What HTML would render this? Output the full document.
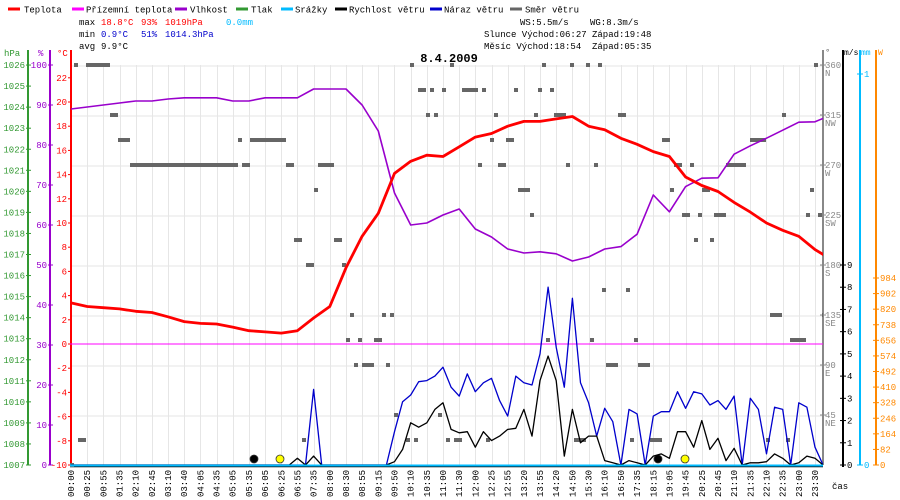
<!DOCTYPE html>
<html><head><meta charset="utf-8"><style>
html,body{margin:0;padding:0;background:#fff;}
svg{display:block;font-family:"Liberation Mono",monospace;}
</style></head><body>
<svg id="c" width="900" height="500" viewBox="0 0 900 500" xmlns="http://www.w3.org/2000/svg">
<rect width="900" height="500" fill="#fff"/>
<g id="legend" font-size="9"></g>
<g id="stats" font-size="9">
<text x="79" y="25" fill="#000">max</text><text x="101" y="25" fill="#f00">18.8°C</text><text x="141" y="25" fill="#f00">93%</text><text x="165" y="25" fill="#f00">1019hPa</text><text x="226" y="25" fill="#0bf">0.0mm</text>
<text x="79" y="37" fill="#000">min</text><text x="101" y="37" fill="#00c"> 0.9°C</text><text x="141" y="37" fill="#00c">51%</text><text x="165" y="37" fill="#00c">1014.3hPa</text>
<text x="79" y="49" fill="#000">avg</text><text x="101" y="49" fill="#000"> 9.9°C</text>
<text x="520" y="25" fill="#000">WS:5.5m/s</text><text x="590" y="25" fill="#000">WG:8.3m/s</text>
<text x="484" y="37" fill="#000">Slunce Východ:06:27</text><text x="592" y="37" fill="#000">Západ:19:48</text>
<text x="484" y="49" fill="#000">Měsíc  Východ:18:54</text><text x="592" y="49" fill="#000">Západ:05:35</text>
</g>
<text x="449" y="62" font-size="12" font-weight="bold" text-anchor="middle" font-family="Liberation Mono, monospace">8.4.2009</text>
<g id="grid"></g>
<g id="axes"></g>
<g id="marks" clip-path="url(#clip)"></g>
<defs><clipPath id="clip"><rect x="70" y="50" width="753" height="418"/></clipPath></defs>
</svg>
<script>
// ---- data ----
const timeLabels=["00:00","00:25","00:55","01:35","02:10","02:45","03:10","03:40","04:05","04:35","05:05","05:35","06:05","06:25","06:55","07:35","08:00","08:30","08:55","09:15","09:50","10:10","10:35","11:00","11:30","12:00","12:25","12:55","13:20","13:55","14:20","14:50","15:30","16:10","16:50","17:35","18:15","19:05","19:45","20:25","20:45","21:10","21:35","22:10","22:35","23:00","23:30"];
const temperature=[3.4,3.1,3.0,2.9,2.7,2.6,2.25,1.85,1.7,1.65,1.4,1.1,1.0,0.9,1.1,2.15,3.1,6.3,8.9,10.8,14.1,15.1,15.6,15.5,16.3,17.1,17.4,18.0,18.4,18.4,18.6,18.8,18.0,17.7,17.0,16.5,15.9,15.5,13.8,13.1,12.6,11.7,10.9,10.0,9.4,8.9,7.8,7.0];
const humidity=[89,89.5,90,90.5,91,91,91.5,91.8,91.8,91.8,91,91,91.8,91.8,91.8,94,94,94,90,83.5,68,60,60.5,62.5,64,59,57,54,53,53.3,52.8,51,52,54,54.6,57.7,67.5,63.3,69.6,71.7,71.8,77.7,79.8,81.7,83.7,85.7,85.8,87.5];
const gust=[0,0,0,0,0,0,0,0,0,0,0,0,0,0,0,0,0,0,0,0,0,0,0,0,0,0,0,0,0,0,3.4,0,0,0,0,0,0,0,0,0,
1.5,2.85,3.15,3.75,3.8,4.0,4.4,3.5,3.1,4.1,3.3,3.7,3.9,2.9,2.2,4.0,3.7,3.6,5.0,8.0,5.3,3.5,7.5,3.7,2.8,1.3,
2.55,1.95,0,2.5,2.3,0,2.2,2.4,2.4,3.3,2.55,3.3,3.2,2.7,2.9,2.5,3.1,0,3.0,2.5,0.5,2.6,2.5,0,2.8,2.6,0.8,0];
const windSpeed=[0,0,0,0,0,0,0,0,0,0,0,0,0,0,0,0,0,0,0,0,0,0,0,0,0,0,0,0,0.3,0,0.4,0,0,0,0,0,0,0,0,0,
0.15,0.7,1.9,1.7,1.9,2.5,2.8,1.6,1.45,1.5,0.8,1.5,1.1,1.3,1.6,1.65,2.5,1.3,3.8,4.9,3.8,0.4,2.5,1.0,1.3,1.3,
0.2,0.1,0,0.2,0.1,0,0.4,0.5,0.3,1.5,1.5,0.8,2.0,0.7,1.2,0.2,0.75,0,0.1,0.1,0.15,0.5,0.3,0,0.1,0.4,0.3,0];
const dirStart=[1,4,10,12,42,45,15,43,54,62,61,56,66,59,68,70,78,80,69,72,76,71,73,79,2,58,84,86,94,81,92,0,85,87,90,93,89,91,
95,118,125,129,132,186,98,103,111,117,120,106,116,121,137,178,105,109,148,170,102,107,124,131,151,155,164,112,150,158,185,115,153,157,161,184,187,156,160,133,139,175,188,119,130,141,180,134,142,96,104,126,140,145,146,174,179];
const dirLen=[1,6,2,3,1,9,27,2,2,4,1,2,2,2,1,1,1,1,1,1,2,1,3,1,2,1,1,1,1,1,1,1,1,2,1,1,1,1,
1,1,1,1,1,1,4,1,1,1,1,1,1,3,2,1,1,2,2,4,1,2,1,1,2,1,5,3,1,2,1,1,2,1,3,1,1,1,1,1,1,3,1,1,1,1,4,3,3,2,1,3,1,1,2,1,1];
const dirDeg=[360,360,315,292.5,292.5,292.5,270,270,270,270,247.5,202.5,202.5,180,180,135,135,135,112.5,112.5,112.5,90,90,90,22.5,22.5,22.5,22.5,22.5,45,45,0,360,337.5,337.5,337.5,315,315,
360,360,360,360,360,360,337.5,337.5,337.5,337.5,337.5,315,315,315,315,315,292.5,292.5,292.5,292.5,270,270,270,270,270,270,270,247.5,247.5,247.5,247.5,225,225,225,225,225,225,202.5,202.5,157.5,157.5,135,135,112.5,112.5,112.5,112.5,90,90,22.5,22.5,22.5,22.5,22.5,22.5,22.5,22.5];
const hpaTicks=[1007,1008,1009,1010,1011,1012,1013,1014,1015,1016,1017,1018,1019,1020,1021,1022,1023,1024,1025,1026];
const humTicks=[0,10,20,30,40,50,60,70,80,90,100];
const tempTicks=[-10,-8,-6,-4,-2,0,2,4,6,8,10,12,14,16,18,20,22];
const dirTicks=[45,90,135,180,225,270,315,360];
const dirNames=["NE","E","SE","S","SW","W","NW","N"];
const msTicks=[0,1,2,3,4,5,6,7,8,9];
const wTicks=[0,82,164,246,328,410,492,574,656,738,820,902,984];
// ---- scales ----
const X0=71, X1=815, PL=70, PR=823, PB=465;
const xIdx=i=>X0+i*(X1-X0)/(timeLabels.length-1);
const xWind=k=>xIdx(k/2);
const xDir=s=>PL+4*s;
const yT=t=>344-t*12.1;
const yH=h=>PB-h*4;
const yP=p=>PB-(p-1007)*21.05;
const yD=d=>PB-d*200/180;
const yW=v=>PB-v*200/9;
const yWatt=w=>PB-w*187/984;
const NS="http://www.w3.org/2000/svg";
function mk(tag,attrs,parent){const e=document.createElementNS(NS,tag);for(const k in attrs)e.setAttribute(k,attrs[k]);parent.appendChild(e);return e;}
const grid=document.getElementById('grid'),axes=document.getElementById('axes'),marks=document.getElementById('marks'),legend=document.getElementById('legend');
// legend
const legItems=[["Teplota","#f00",8,24],["Přízemní teplota","#f0f",72,86],["Vlhkost","#90c",175,190],["Tlak","#393",236,251],["Srážky","#0bf",281,295],["Rychlost větru","#000",335,349],["Náraz větru","#00c",430,444],["Směr větru","#666",510,525]];
legItems.forEach(it=>{
 const g=mk('g',{},legend);
 
 
 mk('line',{x1:it[2],y1:9,x2:it[2]+12,y2:9,stroke:it[1],'stroke-width':3},g);
 const t=mk('text',{x:it[3],y:12.5},g);t.textContent=it[0];
});
// grid
timeLabels.forEach((l,i)=>{const x=Math.round(xIdx(i))+0.5;
 const g=mk('line',{x1:x,y1:65,x2:x,y2:PB,stroke:'#e6e6e6','stroke-width':1},grid);
 });
for(let y=66;y<=416;y+=50){const g=mk('line',{x1:PL,y1:y,x2:PR,y2:y,stroke:'#e6e6e6','stroke-width':1},grid);
 }
// left axes
function axisLine(x,y1,y2,c,name){const l=mk('line',{x1:x,y1:y1,x2:x,y2:y2,stroke:c,'stroke-width':2},axes);}
axisLine(28,50,PB,'#393','pressure-axis');axisLine(50,50,PB,'#90c','humidity-axis');axisLine(71,50,PB,'#f00','temperature-axis');
function lab(x,y,txt,c,anchor,name,fs){const t=mk('text',{x:x,y:y,fill:c,'text-anchor':anchor,'font-size':fs||9},axes);t.textContent=txt;return t;}
lab(4,56,'hPa','#393','start','pressure-unit');lab(38,56,'%','#90c','start','humidity-unit');lab(57,56,'°C','#f00','start','temperature-unit');
hpaTicks.forEach(p=>{const y=yP(p);mk('line',{x1:26,y1:y,x2:31,y2:y,stroke:'#393'},axes);lab(25,y+3,String(p),'#393','end','pressure-tick');});
humTicks.forEach(h=>{const y=yH(h);mk('line',{x1:48,y1:y,x2:53,y2:y,stroke:'#90c'},axes);lab(47,y+3,String(h),'#90c','end','humidity-tick');});
tempTicks.forEach(t=>{const y=yT(t);mk('line',{x1:68,y1:y,x2:72,y2:y,stroke:'#f00'},axes);lab(67,y+3,String(t),'#f00','end','temperature-tick');});
// right axes
axisLine(823,50,PB,'#888','direction-axis');axisLine(843,50,PB+2,'#000','wind-axis');axisLine(860,50,PB,'#0bf','rain-axis');axisLine(876,50,PB,'#f80','power-axis');
lab(825,55,'°','#666','start','direction-unit');lab(844,55,'m/s','#000','start','wind-unit',8);lab(861,55,'mm','#0bf','start','rain-unit',8);lab(878,55,'W','#f80','start','power-unit',8);
dirTicks.forEach((d,i)=>{const y=yD(d);mk('line',{x1:820,y1:y,x2:826,y2:y,stroke:'#888'},axes);lab(825,y+3,String(d),'#888','start','direction-tick',9);lab(825,y+11,dirNames[i],'#888','start','direction-name',9);});
msTicks.forEach(v=>{const y=yW(v);mk('line',{x1:840,y1:y,x2:846,y2:y,stroke:'#000'},axes);lab(847,y+3,String(v),'#000','start','wind-tick',9);});
[0,1].forEach(v=>{const y=v?yD(360)+9:PB;mk('line',{x1:857,y1:y,x2:863,y2:y,stroke:'#0bf'},axes);lab(864,y+3,String(v),'#0bf','start','rain-tick',9);});
wTicks.forEach(w=>{const y=yWatt(w);mk('line',{x1:873,y1:y,x2:879,y2:y,stroke:'#f80'},axes);lab(880,y+3,String(w),'#f80','start','power-tick',9);});
// time labels
timeLabels.forEach((l,i)=>{const x=xIdx(i)+3;const t=mk('text',{x:x,y:497,'font-size':9,transform:`rotate(-90 ${x} 497)`},axes);t.textContent=l;
 });
lab(832,489,'čas','#000','start','time-axis-title');
// zero lines
const zl=mk('line',{x1:PL,y1:yT(0),x2:PR,y2:yT(0),stroke:'#f0f','stroke-width':1},marks);
// direction squares
dirStart.forEach((s,i)=>{const r=mk('rect',{x:xDir(s),y:yD(dirDeg[i])-2,width:4*dirLen[i],height:4,fill:'#666'},marks);
 });
function poly(vals,xf,yf,c,w,name){const p=mk('polyline',{points:vals.map((v,i)=>xf(i).toFixed(1)+','+yf(v).toFixed(1)).join(' '),fill:'none',stroke:c,'stroke-width':w,'stroke-linejoin':'round'},marks);}
poly(humidity,xIdx,yH,'#90c',1.6,'humidity-line');
poly(temperature,xIdx,yT,'#f00',2.8,'temperature-line');
poly(gust,xWind,yW,'#00c',1.3,'wind-gust-line');
poly(windSpeed,xWind,yW,'#000',1.3,'wind-speed-line');
const rl=mk('line',{x1:PL,y1:PB+0.5,x2:PR,y2:PB+0.5,stroke:'#0bf','stroke-width':2},marks);
const bl=mk('line',{x1:PL,y1:PB+1.5,x2:PR,y2:PB+1.5,stroke:'#000','stroke-width':1.5},axes);
// sun/moon icons
[[254,459,'#000','moonset-icon'],[280,459,'#ff0','sunrise-icon'],[658,459,'#000','moonrise-icon'],[685,459,'#ff0','sunset-icon']].forEach(s=>{
 const c=mk('circle',{cx:s[0],cy:s[1],r:4,fill:s[2],stroke:'#333','stroke-width':0.8},axes);});
</script>
</body></html>
